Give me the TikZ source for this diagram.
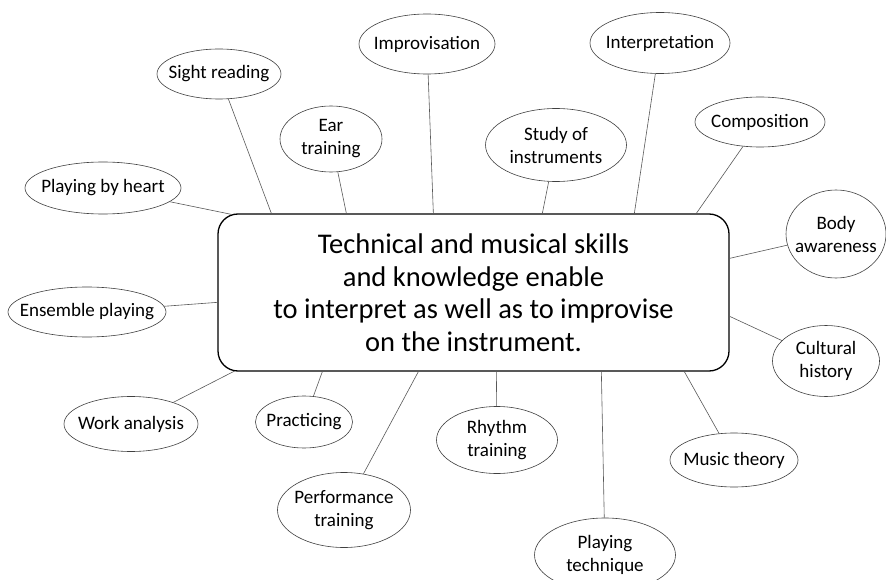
\documentclass[tikz,border=0pt]{standalone}
\usepackage{fontspec}
\setmainfont{Carlito}
\usetikzlibrary{shapes.geometric,calc}
\begin{document}
\begin{tikzpicture}[x=1pt,y=-1pt,
  bub/.style={ellipse,draw=black!75,line width=0.6pt,inner sep=0pt},
  lab/.style={align=center,inner sep=0pt,font=\fontsize{19}{23}\selectfont},
  link/.style={draw=black!65,line width=0.6pt},
  mainbox/.style={draw,line width=1.3pt,rounded corners=20pt,inner sep=0pt,align=center,font=\fontsize{28.5}{32.5}\selectfont}]
\useasboundingbox (0,0) rectangle (886,580);
\clip (0,0) rectangle (886,580);
\fill[white] (0,0) rectangle (886,580);
\node[mainbox,minimum width=511pt,minimum height=157pt] (box) at (473.5,292.5)
  {Technical and musical skills\\and knowledge enable\\to interpret as well as to improvise\\on the instrument.};
% ellipses
\node[bub,minimum width=124pt,minimum height=50pt,label={[lab]center:Sight reading}] (sight) at (219,74) {};
\node[bub,minimum width=102pt,minimum height=66pt,label={[lab]center:Ear\\training}] (ear) at (331,139) {};
\node[bub,minimum width=136pt,minimum height=60pt,label={[lab]center:Improvisation}] (impro) at (427,44) {};
\node[bub,minimum width=156pt,minimum height=52pt,label={[lab]center:Playing by heart}] (heart) at (103,188) {};
\node[bub,minimum width=140pt,minimum height=61pt,label={[lab]center:Interpretation}] (interp) at (660,43) {};
\node[bub,minimum width=141pt,minimum height=73pt,label={[lab]center:Study of\\instruments}] (study) at (556,145) {};
\node[bub,minimum width=130pt,minimum height=50pt,label={[lab]center:Composition}] (comp) at (760,122) {};
\node[bub,minimum width=100pt,minimum height=88pt,label={[lab]center:Body\\awareness}] (body) at (836,234) {};
\node[bub,minimum width=158pt,minimum height=50pt,label={[lab]center:Ensemble playing}] (ens) at (87,312) {};
\node[bub,minimum width=134pt,minimum height=55pt,label={[lab]center:Work analysis}] (work) at (131,424) {};
\node[bub,minimum width=97pt,minimum height=52pt,label={[lab]center:Practicing}] (prac) at (304,422) {};
\node[bub,minimum width=133pt,minimum height=75pt,label={[lab]center:Performance\\training}] (perf) at (344,510) {};
\node[bub,minimum width=121pt,minimum height=67pt,label={[lab]center:Rhythm\\training}] (rhythm) at (497,440) {};
\node[bub,minimum width=128pt,minimum height=54pt,label={[lab]center:Music theory}] (theory) at (734,460) {};
\node[bub,minimum width=107pt,minimum height=71pt,label={[lab]center:Cultural\\history}] (cult) at (826,361) {};
\node[bub,minimum width=141pt,minimum height=74pt,label={[lab]center:Playing\\technique}] (tech) at (605,555) {};
% connectors
\draw[link] (sight) -- ($(box.north west)+(54,0)$);
\draw[link] (ear) -- ($(box.north west)+(129,0)$);
\draw[link] (impro) -- ($(box.north west)+(216,0)$);
\draw[link] (heart) -- ($(box.north west)+(14,1)$);
\draw[link] (study) -- ($(box.north west)+(325,0)$);
\draw[link] (interp) -- ($(box.north west)+(417,0)$);
\draw[link] (comp) -- ($(box.north west)+(479,0)$);
\draw[link] (body) -- ($(box.north east)+(0,45)$);
\draw[link] (cult) -- ($(box.north east)+(0,103)$);
\draw[link] (ens) -- ($(box.north west)+(0,89)$);
\draw[link] (work) -- ($(box.south west)+(17,-0.5)$);
\draw[link] (prac) -- ($(box.south west)+(105,0)$);
\draw[link] (perf) -- ($(box.south west)+(201,0)$);
\draw[link] (rhythm) -- ($(box.south west)+(279,0)$);
\draw[link] (tech) -- ($(box.south west)+(384,0)$);
\draw[link] (theory) -- ($(box.south west)+(467,0)$);
\end{tikzpicture}
\end{document}
